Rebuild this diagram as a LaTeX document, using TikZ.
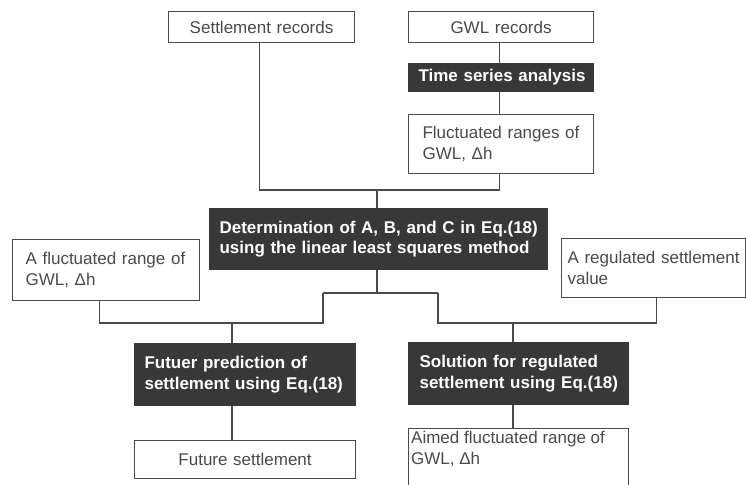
\documentclass[tikz,border=0pt]{standalone}
\usepackage{fontspec}
\setmainfont{Liberation Sans}
\definecolor{linec}{HTML}{4A4A4A}
\definecolor{textc}{HTML}{4A4A4A}
\definecolor{darkc}{HTML}{383838}
\newcommand\ind[1]{\hspace*{#1pt}}
\begin{document}
\begin{tikzpicture}[x=1pt,y=-1pt,
  box/.style={draw=linec, line width=1.1pt, fill=white, text=textc,
    font=\fontsize{17}{21}\selectfont, inner ysep=0pt, inner xsep=0pt,
    anchor=north west, align=left},
  darkbox/.style={box, draw=darkc, fill=darkc, text=white,
    font=\fontsize{17}{20.5}\selectfont\bfseries},
  conn/.style={draw=linec, line width=1.1pt}]
\useasboundingbox (0,0) rectangle (746,484);
% boxes
\node[box, align=center, minimum width=186, minimum height=31, text width=186] (sett) at (168,11) {Settlement records};
\node[box, align=center, minimum width=185, minimum height=31, text width=185] (gwl) at (408,11) {GWL records};
\node[darkbox, minimum width=185, minimum height=28, text width=185] (tsa) at (408,63) {\ind{10}Time series analysis};
\node[box, minimum width=185, minimum height=59, text width=185] (fluc) at (408,114) {\ind{14}Fluctuated ranges of\\\ind{14}GWL, Δh};
\node[darkbox, minimum width=338, minimum height=61, text width=338] (det) at (209,208) {\ind{10}Determination of A, B, and C in Eq.(18)\\\ind{10}using the linear least squares method};
\node[box, minimum width=187, minimum height=61, text width=187] (afr) at (12,239) {\ind{13}A fluctuated range of\\\ind{13}GWL, Δh};
\node[box, minimum width=184, minimum height=59, text width=184] (reg) at (561,238) {\ind{6}A regulated settlement\\\ind{6}value};
\node[darkbox, minimum width=221, minimum height=62, text width=221] (fut) at (134,343) {\ind{10}Futuer prediction of\\\ind{10}settlement using Eq.(18)};
\node[darkbox, minimum width=220, minimum height=62, text width=220] (sol) at (408,342) {\ind{11}Solution for regulated\\\ind{11}settlement using Eq.(18)};
\node[box, align=center, minimum width=221, minimum height=38, text width=221] (fs) at (134,440) {Future settlement};
\node[box, minimum width=220, minimum height=70] (aim) at (408,428) {};
\node[anchor=north west, align=left, text=textc, font=\fontsize{17}{21}\selectfont, inner sep=0pt] (aimt) at (411,431) {Aimed fluctuated range of\\GWL, Δh};
% junctions
\coordinate (j1) at (377,190);
\coordinate (j2) at (377,293);
\coordinate (j2l) at (323,293);
\coordinate (j2r) at (438,293);
\coordinate (k1) at (323,323);
\coordinate (k2) at (438,323);
\coordinate (j3) at (232,323);
\coordinate (j4) at (513,323);
% connectors
\draw[conn] ([xshift=-2]sett.south) |- (j1);
\draw[conn] ([xshift=-2]gwl.south) -- ([xshift=-2]tsa.north);
\draw[conn] ([xshift=-2]tsa.south) -- ([xshift=-2]fluc.north);
\draw[conn] ([xshift=-2]fluc.south) |- (j1);
\draw[conn] (j1) -- (j1 |- det.north);
\draw[conn] (j2 |- det.south) -- (j2);
\draw[conn] (j2l) -- (j2r);
\draw[conn] ([xshift=-6.5]afr.south) |- (k1) -- (j2l);
\draw[conn] (j2r) -- (k2) -| ([xshift=3]reg.south);
\draw[conn] (j3) -- (j3 |- fut.north);
\draw[conn] (j3 |- fut.south) -- (j3 |- fs.north);
\draw[conn] (j4) -- (j4 |- sol.north);
\draw[conn] (j4 |- sol.south) -- (j4 |- aim.north);
\end{tikzpicture}
\end{document}
